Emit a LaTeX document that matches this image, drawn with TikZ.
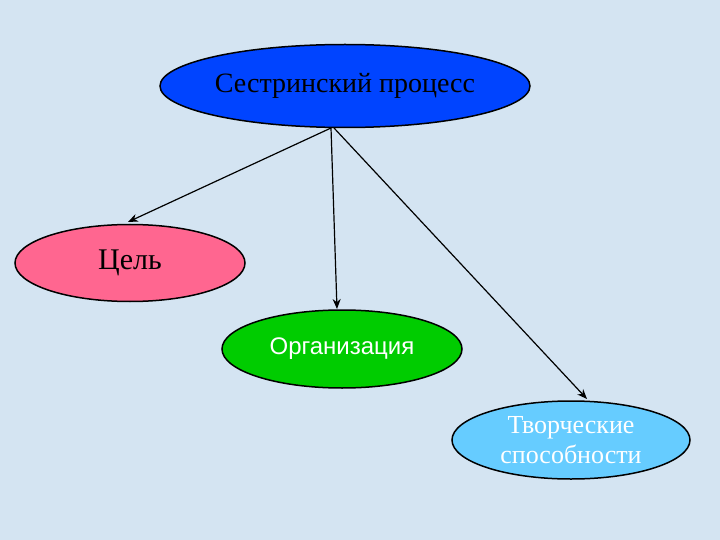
\documentclass[tikz,border=0pt]{standalone}
\usepackage{fontspec}
\setmainfont{Liberation Serif}
\newfontfamily\sansf{Liberation Sans}
\usetikzlibrary{shapes.geometric,arrows.meta}
\definecolor{bg}{HTML}{D4E4F2}
\definecolor{topc}{HTML}{0044FF}
\definecolor{pinkc}{HTML}{FF6690}
\definecolor{greenc}{HTML}{00CC00}
\definecolor{lbc}{HTML}{66CCFF}
\tikzset{
 oval/.style={ellipse, draw=black, line width=1.5pt, inner sep=0pt},
 conn/.style={-{Stealth[length=10pt,width=8pt]}, line width=1.2pt}
}
\begin{document}
\begin{tikzpicture}[x=1pt,y=-1pt]
\fill[bg] (0,0) rectangle (720,540);
\useasboundingbox (0,0) rectangle (720,540);
\node[oval, fill=topc, minimum width=370pt, minimum height=83pt] (top) at (345,86) {\fontsize{28}{32}\selectfont Сестринский процесс};
\node[oval, fill=pinkc, minimum width=230pt, minimum height=77pt] (goal) at (130,263) {\fontsize{30}{34}\selectfont Цель};
\node[oval, fill=greenc, minimum width=240pt, minimum height=78pt, text=white] (org) at (342,349) {\sansf\fontsize{24}{28}\selectfont Организация};
\node[oval, fill=lbc, minimum width=238pt, minimum height=78pt, align=center, text=white, font=\fontsize{26}{30}\selectfont] (cre) at (571,440) {Творческие\\способности};
\coordinate (s1) at (331,128);
\coordinate (s2) at (334,128);
\draw[conn] (s1) -- (128,222);
\draw[conn] (s1) -- (337,309);
\draw[conn] (s2) -- (587,399);
\end{tikzpicture}
\end{document}
